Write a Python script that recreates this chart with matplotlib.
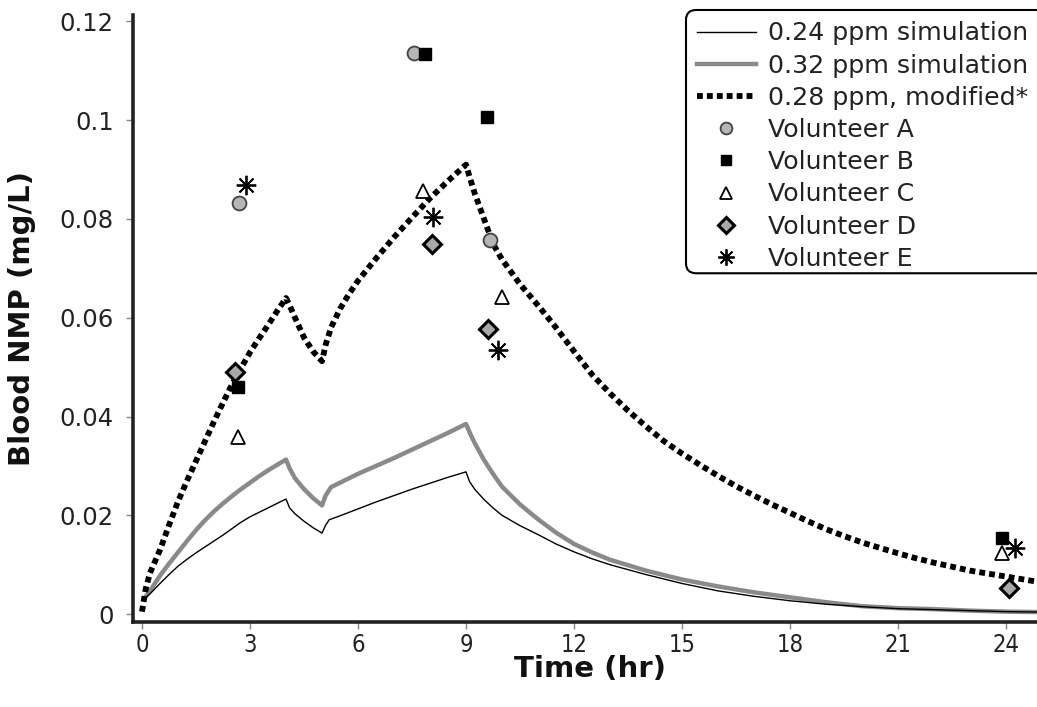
import matplotlib
matplotlib.use("Agg")
import matplotlib.pyplot as plt
from matplotlib.patches import FancyBboxPatch

# ---------------- data ----------------
# 0.24 ppm simulation (thin black)
t_024 = [0.05, 0.25, 0.5, 0.75, 1.0, 1.25, 1.5, 1.75, 2.0, 2.25, 2.5, 2.75, 3.0,
         3.25, 3.5, 3.75, 4.0, 4.1, 4.25, 4.5, 4.75, 5.0, 5.1, 5.2, 5.5, 6.0, 6.5,
         7.0, 7.5, 8.0, 8.5, 9.0, 9.1, 9.25, 9.5, 9.75, 10.0, 10.5, 11.0, 11.5,
         12.0, 12.5, 13.0, 14.0, 15.0, 16.0, 17.0, 18.0, 19.0, 20.0, 21.0, 22.0,
         23.0, 24.0, 25.0]
v_024 = [0.0030, 0.0043, 0.0062, 0.0080, 0.0097, 0.0111, 0.0124, 0.0136, 0.0148,
         0.0160, 0.0173, 0.0186, 0.0197, 0.0206, 0.0215, 0.0224, 0.0233, 0.0215,
         0.0203, 0.0188, 0.0175, 0.0164, 0.0180, 0.0191, 0.0199, 0.0213, 0.0227,
         0.0240, 0.0253, 0.0265, 0.0277, 0.0288, 0.0268, 0.0252, 0.0232, 0.0215,
         0.0200, 0.0179, 0.0161, 0.0142, 0.0126, 0.0112, 0.0100, 0.0080, 0.0062,
         0.0047, 0.0036, 0.0027, 0.0020, 0.0015, 0.0011, 0.0009, 0.0007, 0.0005,
         0.0004]

# 0.32 ppm simulation (thick grey)
t_032 = [0.05, 0.25, 0.5, 0.75, 1.0, 1.25, 1.5, 1.75, 2.0, 2.25, 2.5, 2.75, 3.0,
         3.25, 3.5, 3.75, 4.0, 4.1, 4.25, 4.5, 4.75, 5.0, 5.1, 5.25, 5.5, 6.0, 6.5,
         7.0, 7.5, 8.0, 8.5, 9.0, 9.1, 9.25, 9.5, 9.75, 10.0, 10.5, 11.0, 11.5,
         12.0, 12.5, 13.0, 14.0, 15.0, 16.0, 17.0, 18.0, 19.0, 20.0, 21.0, 22.0,
         23.0, 24.0, 25.0]
v_032 = [0.0030, 0.0050, 0.0078, 0.0102, 0.0125, 0.0148, 0.0170, 0.0190, 0.0208,
         0.0224, 0.0239, 0.0253, 0.0266, 0.0279, 0.0291, 0.0302, 0.0313, 0.0295,
         0.0275, 0.0253, 0.0235, 0.0220, 0.0240, 0.0257, 0.0266, 0.0284, 0.0300,
         0.0316, 0.0333, 0.0350, 0.0367, 0.0385, 0.0368, 0.0345, 0.0312, 0.0284,
         0.0258, 0.0222, 0.0192, 0.0165, 0.0142, 0.0125, 0.0110, 0.0088, 0.0070,
         0.0056, 0.0044, 0.0034, 0.0024, 0.0016, 0.0012, 0.0010, 0.0007, 0.0005,
         0.0004]

# 0.28 ppm, modified* (thick dotted black)
t_028 = [0.0, 0.1, 0.22, 0.5, 0.75, 1.0, 1.25, 1.5, 1.75, 2.0, 2.25, 2.5, 2.75, 3.0,
         3.25, 3.5, 3.75, 4.0, 4.1, 4.25, 4.5, 4.75, 5.0, 5.1, 5.25, 5.5, 5.75,
         6.0, 6.5, 7.0, 7.5, 8.0, 8.5, 9.0, 9.1, 9.25, 9.5, 9.75, 10.0, 10.5, 11.0,
         11.5, 12.0, 12.5, 13.0, 13.5, 14.0, 14.5, 15.0, 15.5, 16.0, 16.5, 17.0,
         17.5, 18.0, 18.5, 19.0, 19.5, 20.0, 20.5, 21.0, 21.5, 22.0, 22.5, 23.0,
         23.5, 24.0, 24.5, 25.0]
v_028 = [0.0005, 0.0050, 0.0083, 0.0130, 0.0180, 0.0228, 0.0270, 0.0310, 0.0350,
         0.0390, 0.0428, 0.0465, 0.0498, 0.0530, 0.0558, 0.0585, 0.0613, 0.0640,
         0.0625, 0.0600, 0.0560, 0.0532, 0.0512, 0.0545, 0.0580, 0.0618, 0.0648,
         0.0675, 0.0720, 0.0763, 0.0803, 0.0842, 0.0877, 0.0910, 0.0885, 0.0850,
         0.0800, 0.0750, 0.0718, 0.0668, 0.0625, 0.0580, 0.0532, 0.0485, 0.0447,
         0.0412, 0.0380, 0.0350, 0.0325, 0.0302, 0.0280, 0.0259, 0.0240, 0.0222,
         0.0205, 0.0188, 0.0172, 0.0158, 0.0145, 0.0134, 0.0123, 0.0113, 0.0104,
         0.0096, 0.0088, 0.0082, 0.0076, 0.0070, 0.0064]

# volunteers
t_A = [2.69, 7.55, 9.67]
v_A = [0.0832, 0.1137, 0.0757]
t_B = [2.67, 7.86, 9.58, 23.9]
v_B = [0.0460, 0.1134, 0.1006, 0.0154]
t_C = [2.67, 7.80, 10.0, 23.9]
v_C = [0.0358, 0.0856, 0.0642, 0.0123]
t_D = [2.58, 8.05, 9.62, 24.07]
v_D = [0.0490, 0.0750, 0.0578, 0.0053]
t_E = [2.90, 8.09, 9.90, 24.25]
v_E = [0.0868, 0.0803, 0.0535, 0.0134]

labels = ["0.24 ppm simulation", "0.32 ppm simulation", "0.28 ppm, modified*",
          "Volunteer A", "Volunteer B", "Volunteer C", "Volunteer D", "Volunteer E"]
xticks = [0, 3, 6, 9, 12, 15, 18, 21, 24]
yticks = [0, 0.02, 0.04, 0.06, 0.08, 0.1, 0.12]
ytick_labels = ["0", "0.02", "0.04", "0.06", "0.08", "0.1", "0.12"]

# ---------------- figure ----------------
plt.rcParams['font.family'] = ['DejaVu Sans']
W, H = 1037, 707
fig = plt.figure(figsize=(W / 100, H / 100), dpi=100)
ax = fig.add_axes([133 / W, 85 / H, (W - 133) / W, 607 / H])

h1, = ax.plot(t_024, v_024, color='black', lw=1.0, label=labels[0], zorder=3)
h2, = ax.plot(t_032, v_032, color='#8a8a8a', lw=3.2, label=labels[1], zorder=2)
h3, = ax.plot(t_028, v_028, color='black', lw=4.2, linestyle=(0, (1.0, 0.7)),
              label=labels[2], zorder=4)

h4, = ax.plot(t_A, v_A, 'o', ms=10, mfc='#b5b5b5', mec='#444444', mew=1.3,
              label=labels[3], zorder=6)
h5, = ax.plot(t_B, v_B, 's', ms=9, mfc='black', mec='black', mew=1,
              label=labels[4], zorder=6)
h6, = ax.plot(t_C, v_C, '^', ms=10, mfc='white', mec='black', mew=1.3,
              label=labels[5], zorder=6)
h7, = ax.plot(t_D, v_D, 'D', ms=9, mfc='#a8a8a8', mec='black', mew=2.2,
              label=labels[6], zorder=6)
h8, = ax.plot(t_E, v_E, marker=(8, 2, 0), ls='none', ms=14, mfc='black',
              mec='black', mew=1.3, label=labels[7], zorder=6)

ax.set_xlim(-0.25, 24.86)
ax.set_ylim(-0.0016, 0.1213)
ax.set_xticks(xticks)
ax.set_yticks(yticks)
ax.set_yticklabels(ytick_labels)

for s in ['top', 'right']:
    ax.spines[s].set_visible(False)
for s in ['left', 'bottom']:
    ax.spines[s].set_linewidth(2.6)
    ax.spines[s].set_color('#222222')

ax.tick_params(axis='both', direction='out', length=5, width=1, color='#888888',
               labelcolor='#222222', labelsize=17.5)
ax.tick_params(axis='y', pad=9)
ax.tick_params(axis='x', pad=3, labelsize=17)
for lab in ax.get_xticklabels():
    lab.set_fontstretch('condensed')

ax.set_xlabel("Time (hr)", fontsize=21, fontweight='bold', color='#111111')
ax.set_ylabel("Blood NMP (mg/L)", fontsize=21, fontweight='bold', color='#111111')
ax.xaxis.set_label_coords(0.506, -0.054)
ax.yaxis.set_label_coords(-0.107, 0.50)

leg = ax.legend(handles=[h1, h2, h3, h4, h5, h6, h7, h8], loc='upper left',
                bbox_to_anchor=(686 / W, 1 - 10 / H),
                bbox_transform=fig.transFigure,
                fontsize=18.2, frameon=True, fancybox=True, framealpha=1,
                edgecolor='black', handlelength=2.3, handletextpad=0.5,
                labelspacing=0.325, borderpad=0.45, borderaxespad=0,
                numpoints=1, markerscale=0.85)
leg.set_zorder(8)
leg.get_frame().set_visible(False)
for txt in leg.get_texts():
    txt.set_color('#222222')

# legend frame extending past the right edge of the picture, as in the reference
fig.canvas.draw()
bb = leg.get_window_extent(fig.canvas.get_renderer())
frame = FancyBboxPatch((bb.x0, bb.y0 + 9), bb.width + 90, bb.height - 9,
                       boxstyle='round,pad=0,rounding_size=10', transform=None,
                       facecolor='white', edgecolor='black', lw=1.5,
                       clip_on=False, zorder=7)
ax.add_patch(frame)

fig.savefig("out.png", dpi=100)
